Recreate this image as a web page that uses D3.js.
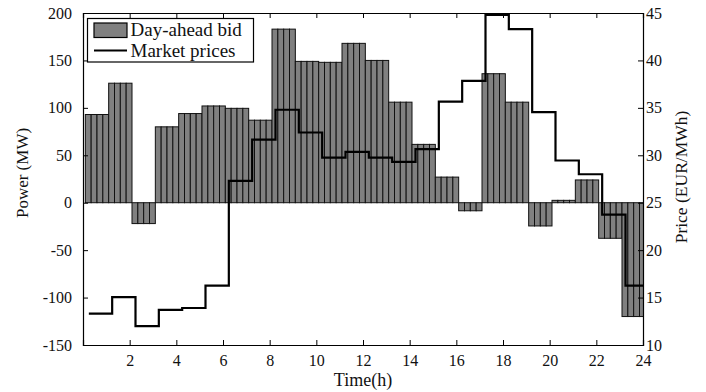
<!DOCTYPE html>
<html>
<head>
<meta charset="utf-8">
<script src="https://cdn.jsdelivr.net/npm/d3@7"></script>
<style>
  body { margin: 0; background: #fff; }
  text { font-family: "Liberation Serif", "DejaVu Serif", serif; fill: #111; }
</style>
</head>
<body>
<div id="chart"></div>
<script>
// hourly values
var hours = [1,2,3,4,5,6,7,8,9,10,11,12,13,14,15,16,17,18,19,20,21,22,23,24];
var bid = [93, 126, -22, 80, 94, 102, 99.5, 87, 183, 149, 148, 168,
           150, 106, 61.5, 27, -8.5, 136, 106, -24.5, 2.5, 24, -37.5, -120];
var price = [13.3, 15.05, 12.0, 13.7, 13.9, 16.25, 27.3, 31.65, 34.8, 32.4, 29.75, 30.35,
             29.75, 29.3, 30.65, 35.65, 37.85, 44.8, 43.3, 34.55, 29.45, 28.0, 23.75, 16.25];
var xTicks = [2,4,6,8,10,12,14,16,18,20,22,24];
var powerTicks = [-150,-100,-50,0,50,100,150,200];
var priceTicks = [10,15,20,25,30,35,40,45];
var legendLabels = ["Day-ahead bid", "Market prices"];

function main(){
  var margin = {top: 13, right: 63, bottom: 47, left: 83},
      width = 706 - margin.left - margin.right,
      height = 392 - margin.top - margin.bottom;

  var svg = d3.select("#chart")
    .append("svg")
    .attr("width", 706)
    .attr("height", 392)
    .append("g")
    .attr("transform", "translate(" + margin.left + "," + margin.top + ")");

  var x = d3.scaleLinear().domain([0, 24]).range([0, width]);
  var yP = d3.scaleLinear().domain([-150, 200]).range([height, 0]);
  var yR = d3.scaleLinear().domain([10, 45]).range([height, 0]);

  // plain hyphen for negatives, like the original
  var fmt = function(d){ return String(d); };

  svg.append("clipPath").attr("id", "clip")
    .append("rect").attr("width", width).attr("height", height);

  var plot = svg.append("g").attr("clip-path", "url(#clip)");

  // bars: each hour drawn as four quarter-hour bars
  var quarters = [];
  hours.forEach(function(h, i){
    for (var q = 0; q < 4; q++) {
      quarters.push({x0: h - 0.9 + q * 0.25, v: bid[i]});
    }
  });
  plot.append("g")
    .selectAll("rect")
    .data(quarters)
    .enter()
    .append("rect")
      .attr("x", function(d){ return x(d.x0); })
      .attr("width", function(d){ return x(d.x0 + 0.25) - x(d.x0); })
      .attr("y", function(d){ return yP(Math.max(0, d.v)); })
      .attr("height", function(d){ return Math.abs(yP(d.v) - yP(0)); })
      .style("fill", "#808080")
      .style("stroke", "#111")
      .style("stroke-width", 1);

  // price step line
  var steps = hours.map(function(h, i){ return [h - 0.75, price[i]]; });
  steps.push([24, price[price.length - 1]]);
  var line = d3.line()
    .x(function(d){ return x(d[0]); })
    .y(function(d){ return yR(d[1]); })
    .curve(d3.curveStepAfter);
  plot.append("path")
    .datum(steps)
    .attr("d", line)
    .style("fill", "none")
    .style("stroke", "#000")
    .style("stroke-width", 2.2);

  // axes with inward ticks
  var bottom = svg.append("g")
    .attr("transform", "translate(0," + height + ")")
    .call(d3.axisBottom(x).tickValues(xTicks).tickSize(-5).tickPadding(10).tickFormat(fmt));
  var top = svg.append("g")
    .call(d3.axisTop(x).tickValues(xTicks).tickSize(-5).tickFormat(""));
  var left = svg.append("g")
    .call(d3.axisLeft(yP).tickValues(powerTicks).tickSize(-5).tickPadding(11).tickFormat(fmt));
  var right = svg.append("g")
    .attr("transform", "translate(" + width + ",0)")
    .call(d3.axisRight(yR).tickValues(priceTicks).tickSize(-5).tickPadding(3).tickFormat(fmt));

  [bottom, top, left, right].forEach(function(a){
    a.select(".domain").style("stroke", "#000").style("stroke-width", 1.2);
    a.selectAll(".tick line").style("stroke", "#000").style("stroke-width", 1);
    a.selectAll("text").style("font-family", "Liberation Serif, serif")
      .style("font-size", "16px").style("fill", "#111");
  });

  // axis labels
  svg.append("text")
    .attr("transform", "translate(-55," + (height / 2 - 6) + ") rotate(-90)")
    .attr("text-anchor", "middle")
    .attr("font-size", "17px")
    .text("Power (MW)");
  svg.append("text")
    .attr("transform", "translate(" + (width + 44) + "," + (height / 2 - 2) + ") rotate(-90)")
    .attr("text-anchor", "middle")
    .attr("font-size", "17.5px")
    .text("Price (EUR/MWh)");
  svg.append("text")
    .attr("x", width / 2)
    .attr("y", height + 41)
    .attr("text-anchor", "middle")
    .attr("font-size", "18px")
    .text("Time(h)");

  // legend
  var legend = svg.append("g").attr("transform", "translate(4.5,5.5)");
  legend.append("rect")
    .attr("width", 166).attr("height", 43.5)
    .style("fill", "#fff").style("stroke", "#000").style("stroke-width", 1.2);
  legend.append("rect")
    .attr("x", 6.5).attr("y", 4.5).attr("width", 33).attr("height", 14.5)
    .style("fill", "#808080").style("stroke", "#000").style("stroke-width", 1.2);
  legend.append("line")
    .attr("x1", 6.5).attr("x2", 39.5).attr("y1", 32).attr("y2", 32)
    .style("stroke", "#000").style("stroke-width", 2.2);
  legend.selectAll("text.lab")
    .data(legendLabels)
    .enter()
    .append("text")
      .attr("class", "lab")
      .attr("x", 43)
      .attr("y", function(d, i){ return 17.5 + i * 20.5; })
      .attr("font-size", "19px")
      .text(function(d){ return d; });
}
main();
</script>
</body>
</html>
